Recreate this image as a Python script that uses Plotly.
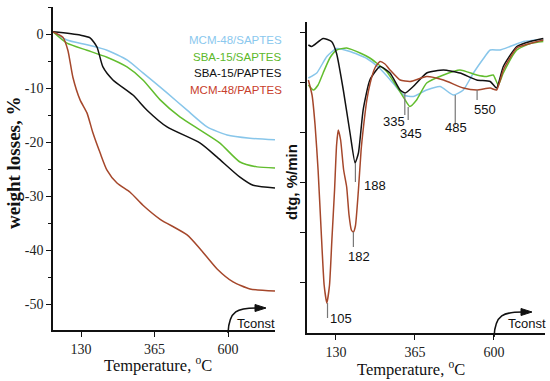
import plotly.graph_objects as go

# ---------------- data ----------------
# Left panel: weight losses (%) vs temperature
tg_mcm_saptes_x = [40.5, 85, 149, 213, 277, 328, 405, 469, 533, 597, 670, 750]
tg_mcm_saptes_y = [0.4, -1.1, -2.0, -3.0, -4.8, -7.2, -10.9, -14.1, -17.2, -18.7, -19.3, -19.6]

tg_sba_saptes_x = [40.5, 85, 149, 213, 277, 328, 383, 447, 511, 574, 638, 693, 750]
tg_sba_saptes_y = [0.4, -1.7, -3.0, -4.3, -6.1, -8.5, -12.2, -15.4, -17.8, -20.2, -23.7, -24.6, -24.8]

tg_sba_paptes_x = [40.5, 127, 159, 181, 200, 232, 296, 341, 405, 511, 565, 638, 680, 750]
tg_sba_paptes_y = [0.4, -0.2, -0.7, -2.4, -6.1, -8.5, -11.3, -14.1, -17.2, -20.2, -22.8, -26.5, -28.0, -28.5]

tg_mcm_paptes_x = [40.5, 72, 88, 104, 127, 149, 168, 191, 213, 245, 287, 328, 383, 469, 511, 565, 616, 670, 750]
tg_mcm_paptes_y = [0.4, -0.6, -3.0, -8.0, -12.2, -14.6, -18.3, -22.0, -25.2, -27.6, -29.3, -31.7, -34.3, -37.2, -39.8, -43.5, -45.9, -47.2, -47.6]

# Right panel: dtg (%/min) vs temperature
dtg_mcm_saptes_x = [48, 73, 103, 132, 172, 222, 261, 301, 331, 360, 400, 440, 479, 509, 539, 569, 589, 618, 648, 688, 747]
dtg_mcm_saptes_y = [-0.92, -0.82, -0.49, -0.33, -0.39, -0.53, -0.73, -1.03, -1.26, -1.29, -1.16, -1.09, -1.26, -1.16, -0.82, -0.53, -0.36, -0.36, -0.29, -0.19, -0.15]

dtg_sba_saptes_x = [48, 63, 77, 92, 112, 132, 162, 202, 231, 251, 281, 311, 336, 350, 370, 400, 450, 499, 549, 579, 598, 613, 628, 668, 708, 747]
dtg_sba_saptes_y = [-1.06, -1.16, -1.06, -0.82, -0.52, -0.36, -0.32, -0.42, -0.52, -0.62, -0.79, -1.09, -1.36, -1.49, -1.36, -1.02, -0.86, -0.76, -0.86, -0.89, -0.86, -1.06, -0.82, -0.36, -0.23, -0.19]

dtg_sba_paptes_x = [48, 58, 92, 117, 132, 152, 172, 187, 197, 211, 231, 261, 291, 321, 336, 360, 400, 450, 499, 549, 589, 608, 628, 668, 708, 747]
dtg_sba_paptes_y = [-0.26, -0.29, -0.13, -0.19, -0.43, -1.16, -2.02, -2.62, -2.42, -1.56, -0.96, -0.69, -0.82, -1.16, -1.22, -1.09, -0.82, -0.76, -0.82, -0.96, -0.99, -1.12, -0.69, -0.29, -0.19, -0.13]

dtg_mcm_paptes_x = [48, 59, 68, 77, 86, 95, 103, 111, 118, 126, 132, 137, 144, 153, 162, 169, 176, 182, 188, 197, 205, 212, 222, 232, 246, 261, 276, 291, 321, 351, 400, 450, 509, 549, 589, 608, 628, 668, 708, 747]
dtg_mcm_paptes_y = [-0.96, -1.26, -1.86, -2.76, -3.96, -5.06, -5.42, -5.06, -4.16, -3.16, -2.26, -1.96, -2.16, -2.76, -3.10, -3.66, -3.96, -4.00, -3.88, -3.16, -2.36, -1.90, -1.36, -1.02, -0.72, -0.59, -0.64, -0.76, -0.96, -0.99, -0.89, -0.96, -1.12, -1.16, -1.12, -1.16, -0.76, -0.32, -0.23, -0.16]

series_names = ["MCM-48/SAPTES", "SBA-15/SAPTES", "SBA-15/PAPTES", "MCM-48/PAPTES"]
line_colors = ["#88c6ea", "#62bd2e", "#111111", "#a5472b"]
label_colors = ["#8ac8ee", "#5cb82a", "#111111", "#c8402c"]

x_ticks = [130, 365, 600]
left_y_ticks = [0, -10, -20, -30, -40, -50]
left_y_ticktext = ["0", "-10", "-20", "-30", "-40", "-50"]
right_y_ticks = [0, -1, -2, -3, -4, -5]

# peak labels
peak_labels = ["335", "345", "485", "550", "188", "182", "105"]
peak_x = [335, 345, 485, 550, 188, 182, 105]
peak_line_top = [-1.22, -1.50, -1.26, -1.16, -2.62, -4.00, -5.42]
peak_line_bot = [-1.66, -1.76, -1.86, -1.36, -3.00, -4.30, -5.72]
peak_text_x = [303, 354, 487, 574, 246, 199, 145]
peak_text_y = [-1.80, -2.02, -1.92, -1.56, -3.06, -4.48, -5.72]

# ---------------- figure ----------------
W, H = 550, 381
fig = go.Figure()

left_sets = [(tg_mcm_saptes_x, tg_mcm_saptes_y), (tg_sba_saptes_x, tg_sba_saptes_y),
             (tg_sba_paptes_x, tg_sba_paptes_y), (tg_mcm_paptes_x, tg_mcm_paptes_y)]
right_sets = [(dtg_mcm_saptes_x, dtg_mcm_saptes_y), (dtg_sba_saptes_x, dtg_sba_saptes_y),
              (dtg_sba_paptes_x, dtg_sba_paptes_y), (dtg_mcm_paptes_x, dtg_mcm_paptes_y)]

for (xs, ys), name, col in zip(left_sets, series_names, line_colors):
    fig.add_trace(go.Scatter(x=xs, y=ys, mode="lines", name=name, showlegend=False,
                             line=dict(color=col, width=1.5, shape="spline", smoothing=0.6),
                             xaxis="x", yaxis="y"))
for (xs, ys), name, col in zip(right_sets, series_names, line_colors):
    fig.add_trace(go.Scatter(x=xs, y=ys, mode="lines", name=name, showlegend=False,
                             line=dict(color=col, width=1.5, shape="spline", smoothing=0.5),
                             xaxis="x2", yaxis="y2"))

def px(xp):
    return xp / W

def py(yp):
    return 1 - yp / H

tick_font = dict(family="Liberation Serif, DejaVu Serif, serif", size=14, color="#222")
axis_common = dict(showgrid=False, zeroline=False, showline=True, linecolor="#111",
                   linewidth=1.5, ticks="outside", tickcolor="#111", tickwidth=1.2,
                   ticklen=5, tickfont=tick_font)

fig.update_layout(
    width=W, height=H, margin=dict(l=0, r=0, t=0, b=0),
    paper_bgcolor="white", plot_bgcolor="white", showlegend=False,
    xaxis=dict(domain=[px(53), px(275)], range=[40.5, 750], tickvals=x_ticks,
               anchor="y", **axis_common),
    yaxis=dict(domain=[py(330), py(7)], range=[-54.8, 5.0], tickvals=left_y_ticks,
               ticktext=left_y_ticktext, anchor="x",
               minor=dict(dtick=5, tick0=0, ticks="outside", ticklen=3, tickcolor="#111"),
               **axis_common),
    xaxis2=dict(domain=[px(307), px(545)], range=[44, 752], tickvals=x_ticks,
                anchor="y2", **axis_common),
    yaxis2=dict(domain=[py(333), py(22)], range=[-6.02, 0.2], tickvals=right_y_ticks,
                showticklabels=False, anchor="x2", **axis_common),
)

annotations = []
annotations.append(dict(text="<b>weight losses, %</b>", xref="paper", yref="paper", x=px(13), y=py(163),
                        textangle=-90, showarrow=False,
                        font=dict(family="Liberation Serif, DejaVu Serif, serif", size=19, color="#111"),
                        xanchor="center", yanchor="middle"))
annotations.append(dict(text="<b>dtg, %/min</b>", xref="paper", yref="paper", x=px(291), y=py(182),
                        textangle=-90, showarrow=False,
                        font=dict(family="Liberation Sans, Arial, sans-serif", size=15, color="#111"),
                        xanchor="center", yanchor="middle"))
for cx, cy in [(158, 364), (411, 368)]:
    annotations.append(dict(text="Temperature, <sup>o</sup>C", xref="paper", yref="paper",
                            x=px(cx), y=py(cy), showarrow=False,
                            font=dict(family="Liberation Serif, DejaVu Serif, serif", size=16.5, color="#111"),
                            xanchor="center", yanchor="middle"))
for i, (name, col) in enumerate(zip(series_names, label_colors)):
    annotations.append(dict(text=name, xref="paper", yref="paper", x=px(284), y=py(40 + i * 16.7),
                            showarrow=False, xanchor="right", yanchor="middle",
                            font=dict(family="Liberation Sans, Arial, sans-serif", size=11.5, color=col)))
for lab, tx, ty in zip(peak_labels, peak_text_x, peak_text_y):
    annotations.append(dict(text=lab, xref="x2", yref="y2", x=tx, y=ty, showarrow=False,
                            xanchor="center", yanchor="middle",
                            font=dict(family="Liberation Sans, Arial, sans-serif", size=13, color="#111")))
for cx in [256, 527]:
    annotations.append(dict(text="Tconst", xref="paper", yref="paper", x=px(cx), y=py(323),
                            showarrow=False, xanchor="center", yanchor="middle",
                            font=dict(family="Liberation Sans, Arial, sans-serif", size=13, color="#111")))
fig.update_layout(annotations=annotations)

shapes = []
for x0, yt, yb in zip(peak_x, peak_line_top, peak_line_bot):
    shapes.append(dict(type="line", xref="x2", yref="y2", x0=x0, x1=x0, y0=yt, y1=yb,
                       line=dict(color="#777", width=1.2)))

def arrow(sx, sy, ex, ey, tipx):
    p = (f"M {px(sx)},{py(sy)} C {px(sx + 1)},{py(ey + 2)} {px(sx + 10)},{py(ey)} {px(ex)},{py(ey)}")
    shapes.append(dict(type="path", xref="paper", yref="paper", path=p,
                       line=dict(color="#111", width=1.6)))
    tri = (f"M {px(tipx)},{py(ey)} L {px(tipx - 11)},{py(ey - 3.5)} "
           f"L {px(tipx - 11)},{py(ey + 3.5)} Z")
    shapes.append(dict(type="path", xref="paper", yref="paper", path=tri,
                       fillcolor="#111", line=dict(color="#111", width=1)))

arrow(228, 333, 257, 308, 266)
arrow(494, 337, 523, 312, 532)
fig.update_layout(shapes=shapes)

fig.write_html("out.html", config={"displayModeBar": False},
               post_script="document.body.style.margin='0';document.body.style.overflow='hidden';")
